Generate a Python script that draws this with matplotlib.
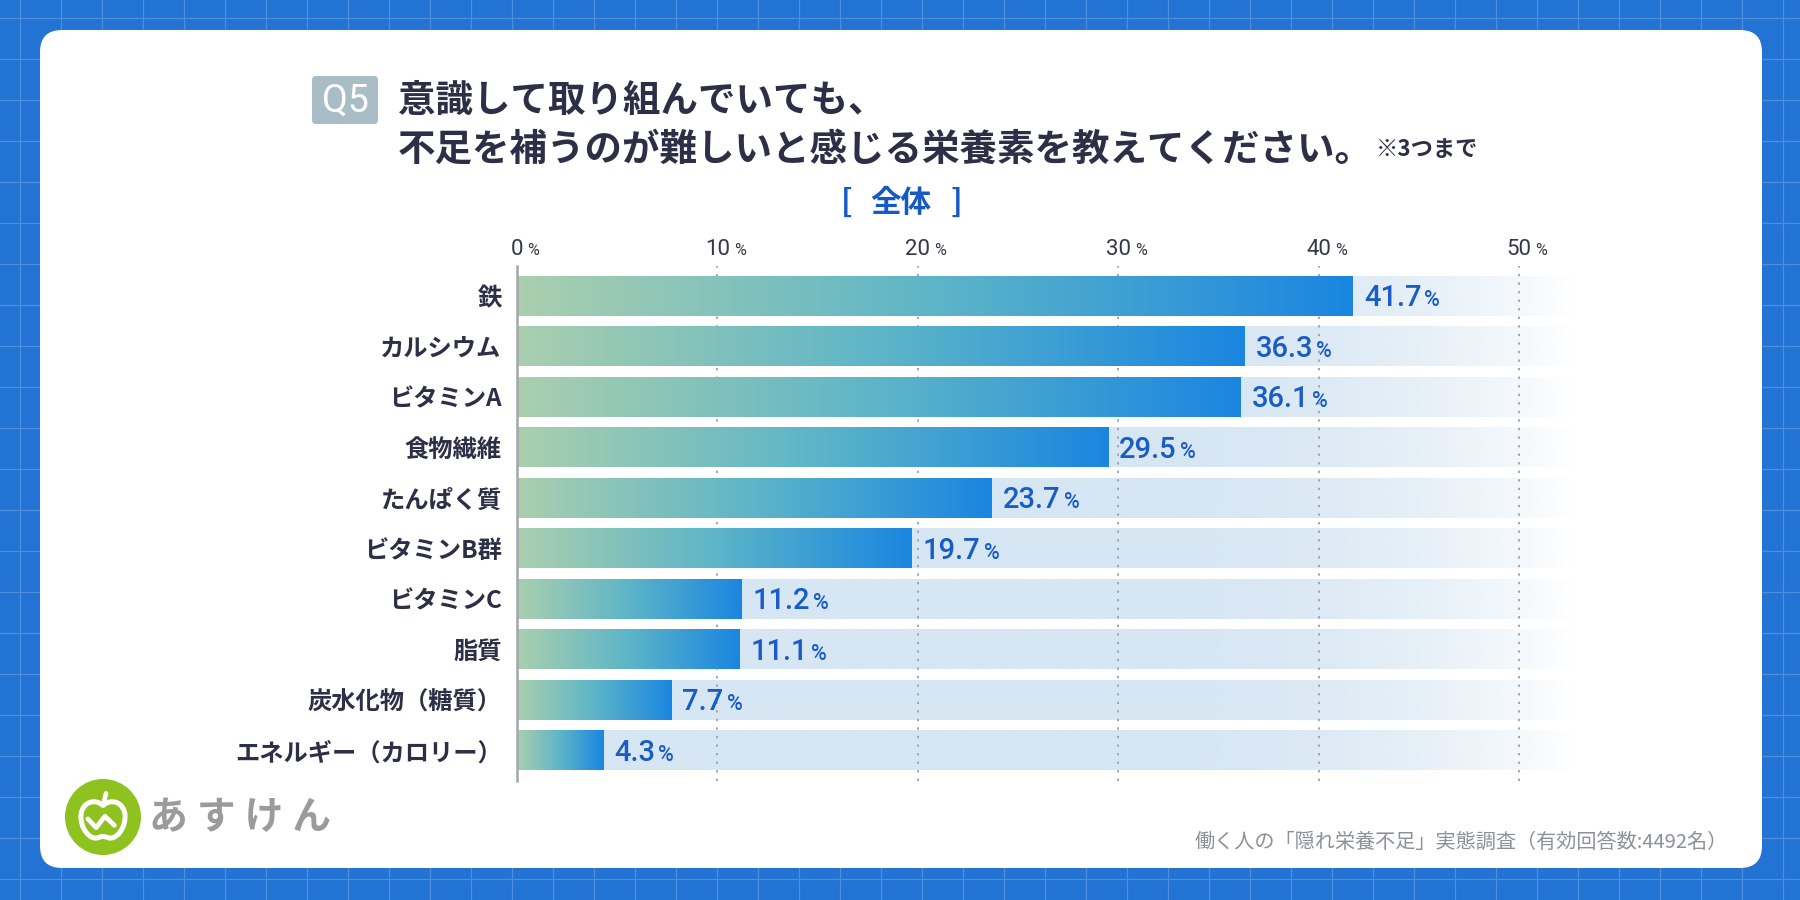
import numpy as np
import matplotlib
matplotlib.use("Agg")
import matplotlib.pyplot as plt
from matplotlib.colors import LinearSegmentedColormap, to_rgb
from matplotlib.patches import FancyBboxPatch, Circle, PathPatch
from matplotlib.path import Path
from matplotlib.transforms import IdentityTransform

# data
categories = ["鉄", "カルシウム", "ビタミンA", "食物繊維", "たんぱく質",
              "ビタミンB群", "ビタミンC", "脂質", "炭水化物（糖質）", "エネルギー（カロリー）"]
values = [41.7, 36.3, 36.1, 29.5, 23.7, 19.7, 11.2, 11.1, 7.7, 4.3]
tick_values = [0, 10, 20, 30, 40, 50]

title_line1 = "意識して取り組んでいても、"
title_line2 = "不足を補うのが難しいと感じる栄養素を教えてください。"
title_note = "※3つまで"
subtitle = "全体"
source_text = "働く人の「隠れ栄養不足」実態調査（有効回答数:4492名）"
brand_text = "あ す け ん"

JP = ["Noto Sans CJK JP", "DejaVu Sans"]
NUM = ["Roboto", "Noto Sans CJK JP", "DejaVu Sans"]

BLUE_BG = "#2273d3"
GRID_BG = "#4d8fdc"
NAVY = "#2c2f45"
VALUE_BLUE = "#1a5cc6"
TRACK = "#d6e6f3"
XMAX = 52.8

bar_cmap = LinearSegmentedColormap.from_list("bar", ["#aacfae", "#5db5c8", "#1a86e0"])


def num_with_pct(fig, text_obj, pct_size, color, family, weight, gap=3):
    """Put a smaller % sign right after a number text"""
    renderer = fig.canvas.get_renderer()
    bb = text_obj.get_window_extent(renderer)
    x, y = text_obj.get_transform().transform(text_obj.get_position())
    fig.text(bb.x1 + gap, y, "%", transform=IdentityTransform(),
             fontsize=pct_size, color=color, family=family, weight=weight,
             va="baseline", ha="left")


def draw_background(fig):
    bg = fig.add_axes([0, 0, 1, 1])
    bg.set_xlim(0, 1800)
    bg.set_ylim(900, 0)
    bg.axis("off")
    for gx in np.arange(20, 1800, 41):
        bg.axvline(gx, color=GRID_BG, lw=0.9, zorder=0)
    for gy in np.arange(18, 900, 41):
        bg.axhline(gy, color=GRID_BG, lw=0.9, zorder=0)
    card = FancyBboxPatch((40, 30), 1722, 838,
                          boxstyle="round,pad=0,rounding_size=22",
                          fc="white", ec="none", zorder=1)
    bg.add_patch(card)
    return bg


def draw_titles(bg):
    badge = FancyBboxPatch((312, 76), 66, 48, boxstyle="round,pad=0,rounding_size=4",
                           fc="#a8bdc6", ec="none", zorder=2)
    bg.add_patch(badge)
    bg.text(345, 101, "Q5", fontsize=27, color="white", family=NUM,
            ha="center", va="center", zorder=3)
    bg.text(398, 100, title_line1, fontsize=27, color=NAVY, family=JP,
            weight="bold", ha="left", va="center", zorder=3)
    bg.text(398, 149, title_line2, fontsize=27, color=NAVY, family=JP,
            weight="bold", ha="left", va="center", zorder=3)
    bg.text(1376, 150, title_note, fontsize=16, color=NAVY, family=JP,
            weight="bold", ha="left", va="center", zorder=3)
    for x, s in [(847, "["), (901, subtitle), (956, "]")]:
        bg.text(x, 203, s, fontsize=22, color="#1559c5", family=JP,
                weight="bold", ha="center", va="center", zorder=3)
    bg.text(1728, 842, source_text, fontsize=14.5, color="#8c9099", family=JP,
            ha="right", va="center", zorder=3)


def draw_logo(bg):
    cx, cy, r = 103, 817, 38
    bg.add_patch(Circle((cx, cy), r, fc="#8dc21f", ec="none", zorder=2))
    s = r
    verts = [
        (0, -0.30), (-0.20, -0.50), (-0.55, -0.40), (-0.58, -0.05),
        (-0.60, 0.30), (-0.35, 0.60), (-0.15, 0.55),
        (0, 0.50), (0, 0.50), (0.15, 0.55),
        (0.35, 0.60), (0.60, 0.30), (0.58, -0.05),
        (0.55, -0.40), (0.20, -0.50), (0, -0.30),
    ]
    codes = [Path.MOVETO] + [Path.CURVE4] * 15
    verts = [(cx + vx * s, cy + vy * s) for vx, vy in verts]
    bg.add_patch(PathPatch(Path(verts, codes), fc="none", ec="white", lw=3.6, zorder=3))
    bg.plot([cx, cx + 0.08 * s], [cy - 0.30 * s, cy - 0.62 * s], color="white", lw=3.4, zorder=3,
            solid_capstyle="round")
    bg.plot([cx - 0.40 * s, cx - 0.18 * s, cx + 0.05 * s, cx + 0.30 * s],
            [cy + 0.05 * s, cy + 0.28 * s, cy - 0.02 * s, cy + 0.22 * s],
            color="white", lw=3.4, zorder=3, solid_capstyle="round")
    bg.text(149, 818, brand_text, fontsize=28, color="#9b9b9b", family=JP,
            weight="bold", ha="left", va="center", zorder=3)


def draw_chart(fig):
    left, per_pct, top, bottom = 517, 20.04, 266, 781
    right = left + XMAX * per_pct
    ax = fig.add_axes([left / 1800, (900 - bottom) / 900,
                       (right - left) / 1800, (bottom - top) / 900])
    ax.patch.set_alpha(0)
    n = len(categories)
    half = 0.387

    # track: light blue fading to white on the right
    xs = np.linspace(0, XMAX, 400)
    fade = np.clip((xs - 30) / (XMAX - 30), 0, 1)
    alpha = 1 - fade ** 2.2
    track = np.zeros((1, len(xs), 4))
    track[..., :3] = to_rgb(TRACK)
    track[..., 3] = alpha
    grad = np.linspace(0, 1, 256)[None, :]
    for i, v in enumerate(values):
        ax.imshow(track, extent=(0, XMAX, i + half, i - half), aspect="auto",
                  interpolation="bilinear", zorder=1)
        ax.imshow(grad, extent=(0, v, i + half, i - half), aspect="auto",
                  cmap=bar_cmap, interpolation="bilinear", zorder=3)

    for t in tick_values[1:]:
        ax.axvline(t, color="#a3a6ad", lw=1.4, linestyle=(0, (1.2, 3.2)), zorder=2)

    ax.set_xlim(0, XMAX)
    ax.set_ylim(n - 1 + 0.6, -0.6)
    for side in ["top", "right", "bottom"]:
        ax.spines[side].set_visible(False)
    ax.spines["left"].set_color("#a3a6ad")
    ax.spines["left"].set_linewidth(1.8)
    ax.spines["left"].set_zorder(4)
    ax.set_xticks([])
    ax.set_yticks(range(n))
    ax.set_yticklabels(categories, family=JP, fontsize=17.5, color=NAVY, weight="bold")
    ax.tick_params(axis="y", length=0, pad=11)

    # tick labels along the top
    fig.canvas.draw()
    for t in tick_values:
        txt = ax.text(t, 1.021, str(t), transform=ax.get_xaxis_transform(),
                      fontsize=16, color="#343746", family=NUM, ha="center", va="baseline")
        num_with_pct(fig, txt, 11.5, "#343746", NUM, "normal", gap=4)

    # value labels
    for i, v in enumerate(values):
        txt = ax.annotate(f"{v:.1f}", (v, i + 0.2), xytext=(8, 0), textcoords="offset points",
                          fontsize=21, color=VALUE_BLUE, family=NUM, weight="medium",
                          ha="left", va="baseline", zorder=5)
        num_with_pct(fig, txt, 15.5, VALUE_BLUE, NUM, "medium", gap=3)
    return ax


def main():
    fig = plt.figure(figsize=(18, 9), dpi=100)
    fig.patch.set_facecolor(BLUE_BG)
    bg = draw_background(fig)
    draw_titles(bg)
    draw_logo(bg)
    draw_chart(fig)
    fig.savefig("out.png", dpi=100, facecolor=fig.get_facecolor())
    plt.close(fig)


if __name__ == "__main__":
    main()
